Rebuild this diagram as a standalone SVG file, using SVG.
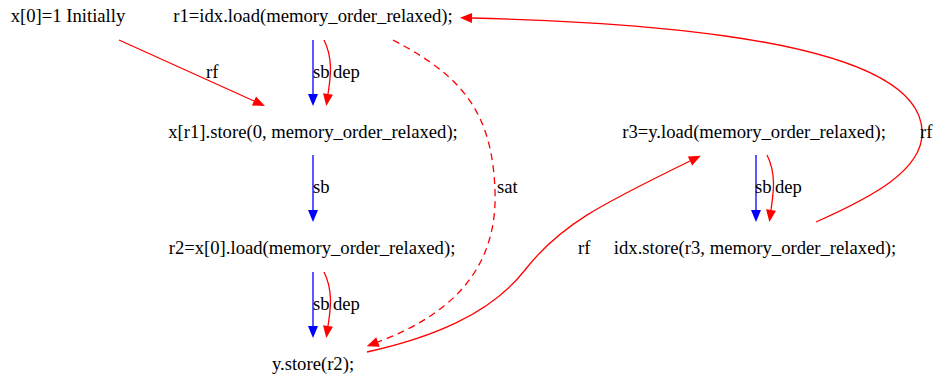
<svg xmlns="http://www.w3.org/2000/svg" width="935" height="375" viewBox="0 0 935 375">
<style>
text{font-family:"Liberation Serif","Times New Roman",serif;font-size:18.67px;fill:#000}
.n{text-anchor:middle}
.r{fill:none;stroke:#ff0000;stroke-width:1.3}
.b{fill:none;stroke:#0000ff;stroke-width:1.3}
.d{stroke-dasharray:7,5}
</style>
<defs>
<marker id="ar" markerUnits="userSpaceOnUse" markerWidth="12" markerHeight="10" refX="0" refY="5" orient="auto" overflow="visible"><path d="M0,0 L12,5 L0,10 z" fill="#ff0000"/></marker>
<marker id="ab" markerUnits="userSpaceOnUse" markerWidth="12" markerHeight="10" refX="0" refY="5" orient="auto" overflow="visible"><path d="M0,0 L12,5 L0,10 z" fill="#0000ff"/></marker>
</defs>
<rect width="935" height="375" fill="#fff"/>
<g id="init"><text class="n" x="68" y="22">x[0]=1 Initially</text></g>
<g id="a"><text class="n" x="313" y="22">r1=idx.load(memory_order_relaxed);</text></g>
<g id="b"><text class="n" x="313" y="138">x[r1].store(0, memory_order_relaxed);</text></g>
<g id="c"><text class="n" x="312" y="254">r2=x[0].load(memory_order_relaxed);</text></g>
<g id="d"><text class="n" x="313" y="370">y.store(r2);</text></g>
<g id="e"><text class="n" x="754" y="138">r3=y.load(memory_order_relaxed);</text></g>
<g id="f"><text class="n" x="755" y="254">idx.store(r3, memory_order_relaxed);</text></g>
<g id="edges">
<path class="r" d="M119,40 L254,101" marker-end="url(#ar)"/>
<text x="206" y="78">rf</text>
<path class="b" d="M313,40 L313,94" marker-end="url(#ab)"/>
<path class="r" d="M324,40 C334,60 330,80 328,94" marker-end="url(#ar)"/>
<text x="313" y="78">sb</text><text x="333" y="78">dep</text>
<path class="b" d="M313,155 L313,210" marker-end="url(#ab)"/>
<text x="313" y="193">sb</text>
<path class="b" d="M313,272 L313,326" marker-end="url(#ab)"/>
<path class="r" d="M324,272 C334,292 330,312 328,326" marker-end="url(#ar)"/>
<text x="313" y="310">sb</text><text x="333" y="310">dep</text>
<path class="b" d="M756,155 L756,210" marker-end="url(#ab)"/>
<path class="r" d="M767,155 C777,175 773,195 771,210" marker-end="url(#ar)"/>
<text x="755" y="193">sb</text><text x="775" y="193">dep</text>
<path class="r d" d="M393,40 C460,75 492,110 495,190 C498,270 450,315 378,342" marker-end="url(#ar)"/>
<text x="497" y="193">sat</text>
<path class="r" d="M367,352 C430,338 490,315 525,270 C560,225 600,205 690,161" marker-end="url(#ar)"/>
<text x="578" y="254">rf</text>
<path class="r" d="M816,222 C870,198 925,170 922,130 C918,60 760,25 472,18" marker-end="url(#ar)"/>
<text x="920" y="138">rf</text>
</g>
</svg>
